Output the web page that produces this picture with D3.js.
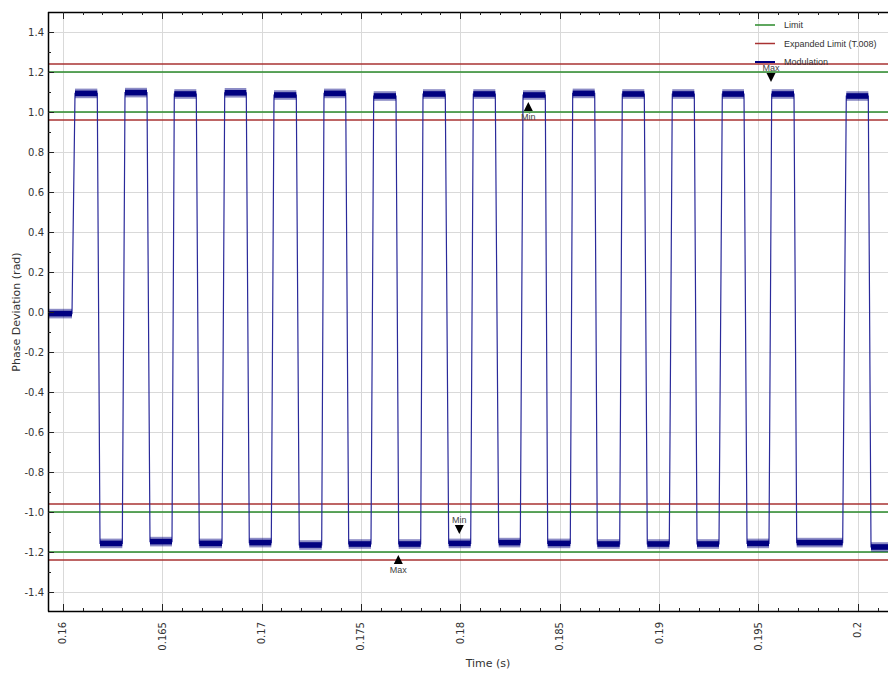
<!DOCTYPE html>
<html>
<head>
<meta charset="utf-8">
<script src="https://cdn.jsdelivr.net/npm/d3@7/dist/d3.min.js"></script>
<style>
  html, body { margin: 0; padding: 0; background: #fff; }
  svg { display: block; }
</style>
</head>
<body>
<svg id="chart" width="888" height="674"></svg>
<script>
// ---------------- DATA ----------------
const xTickValues = [0.16, 0.165, 0.17, 0.175, 0.18, 0.185, 0.19, 0.195, 0.2];
const xTickLabels = ["0.16", "0.165", "0.17", "0.175", "0.18", "0.185", "0.19", "0.195", "0.2"];
const yTickValues = [-1.4, -1.2, -1.0, -0.8, -0.6, -0.4, -0.2, 0, 0.2, 0.4, 0.6, 0.8, 1.0, 1.2, 1.4];
const yTickLabels = ["-1.4", "-1.2", "-1.0", "-0.8", "-0.6", "-0.4", "-0.2", "0.0", "0.2", "0.4", "0.6", "0.8", "1.0", "1.2", "1.4"];

// limit lines (rad)
const limitLevels = [1.2, 1.0, -1.0, -1.2];
const expandedLimitLevels = [1.24, 0.96, -0.96, -1.24];

// modulation plateaus: start time, end time, mean level
const plateauStart = [0.159261, 0.160619, 0.161876, 0.163134, 0.164391, 0.165614, 0.166871, 0.168149, 0.169386,
  0.170629, 0.171901, 0.173144, 0.174386, 0.175644, 0.176901, 0.178124, 0.179416, 0.180654, 0.181932,
  0.183154, 0.184396, 0.185654, 0.186892, 0.188149, 0.189406, 0.190664, 0.191907, 0.193179, 0.194422,
  0.195664, 0.196922, 0.199416, 0.200659];
const plateauEnd = [0.160468, 0.161740, 0.162998, 0.164240, 0.165498, 0.166720, 0.168013, 0.169235, 0.170493,
  0.171751, 0.173028, 0.174235, 0.175508, 0.176766, 0.178008, 0.179245, 0.180523, 0.181761, 0.183018,
  0.184276, 0.185533, 0.186761, 0.188018, 0.189256, 0.190513, 0.191771, 0.193013, 0.194271, 0.195528,
  0.196786, 0.199235, 0.200523, 0.201514];
const plateauLevel = [-0.008,
  1.093, -1.157, 1.097, -1.148, 1.090, -1.157, 1.096, -1.153,
  1.085, -1.165, 1.093, -1.160, 1.080, -1.160, 1.090, -1.157,
  1.090, -1.153, 1.085, -1.157, 1.093, -1.160, 1.090, -1.160,
  1.090, -1.160, 1.090, -1.157, 1.090, -1.153, 1.080, -1.175];

// Max / Min markers
const markerTime = [0.195629, 0.183421, 0.176881, 0.179950];
const markerValue = [1.13, 1.07, -1.195, -1.13];
const markerLabel = ["Max", "Min", "Max", "Min"];
const markerSide = ["above", "below", "below", "above"];

// legend
const legendNames = ["Limit", "Expanded Limit (T.008)", "Modulation"];

// ---------------- LAYOUT ----------------
const plot = { left: 48, right: 888, top: 12, bottom: 611 };
const colors = { limit: "#2a8a2a", expanded: "#a83232", mod: "#000080", grid: "#d9d9d9", text: "#333333", axis: "#000000" };

const svg = d3.select("#chart");

// x: 0.16 -> 62.7px, 0.2 -> 857.9px
const x = d3.scaleLinear().domain([0.16, 0.2]).range([62.7, 857.9]);
const y = d3.scaleLinear().domain([-1.5, 1.5]).range([612, 12]);

const clipId = "plotclip";
svg.append("defs").append("clipPath").attr("id", clipId)
  .append("rect").attr("x", plot.left).attr("y", plot.top)
  .attr("width", plot.right - plot.left).attr("height", plot.bottom - plot.top);

// grid
const grid = svg.append("g").attr("clip-path", `url(#${clipId})`);
grid.selectAll("line.vg").data(xTickValues).join("line")
  .attr("x1", d => Math.round(x(d)) + 0.5).attr("x2", d => Math.round(x(d)) + 0.5)
  .attr("y1", plot.top).attr("y2", plot.bottom)
  .attr("stroke", colors.grid).attr("stroke-width", 1);
grid.selectAll("line.hg").data(yTickValues).join("line")
  .attr("x1", plot.left).attr("x2", plot.right)
  .attr("y1", d => Math.round(y(d)) + 0.5).attr("y2", d => Math.round(y(d)) + 0.5)
  .attr("stroke", colors.grid).attr("stroke-width", 1);

// limit lines
const lim = svg.append("g").attr("clip-path", `url(#${clipId})`);
lim.selectAll("line.lim").data(limitLevels).join("line")
  .attr("x1", plot.left).attr("x2", plot.right)
  .attr("y1", d => y(d)).attr("y2", d => y(d))
  .attr("stroke", colors.limit).attr("stroke-width", 1.5);
lim.selectAll("line.exp").data(expandedLimitLevels).join("line")
  .attr("x1", plot.left).attr("x2", plot.right)
  .attr("y1", d => y(d)).attr("y2", d => y(d))
  .attr("stroke", colors.expanded).attr("stroke-width", 1.5);

// modulation waveform
const plateaus = plateauStart.map((s, i) => ({ s, e: plateauEnd[i], v: plateauLevel[i] }));
const wave = svg.append("g").attr("clip-path", `url(#${clipId})`);
const pts = [];
plateaus.forEach(p => { pts.push([p.s, p.v]); pts.push([p.e, p.v]); });
const line = d3.line().x(d => x(d[0])).y(d => y(d[1]));
wave.append("path").attr("d", line(pts))
  .attr("fill", "none").attr("stroke", "#2a2a9a").attr("stroke-width", 1.2);

// noisy plateau bands
const outerHalf = 0.024, innerHalf = 0.014;
wave.selectAll("rect.outer").data(plateaus).join("rect")
  .attr("x", d => x(d.s)).attr("width", d => x(d.e) - x(d.s))
  .attr("y", d => y(d.v + outerHalf)).attr("height", d => y(d.v - outerHalf) - y(d.v + outerHalf))
  .attr("fill", colors.mod).attr("opacity", 0.45);
wave.selectAll("rect.inner").data(plateaus).join("rect")
  .attr("x", d => x(d.s)).attr("width", d => x(d.e) - x(d.s))
  .attr("y", d => y(d.v + innerHalf)).attr("height", d => y(d.v - innerHalf) - y(d.v + innerHalf))
  .attr("fill", colors.mod);

// axes lines
svg.append("line").attr("x1", plot.left + 0.5).attr("x2", plot.left + 0.5)
  .attr("y1", plot.top).attr("y2", plot.bottom + 0.5).attr("stroke", colors.axis).attr("stroke-width", 1.5);
svg.append("line").attr("x1", plot.left).attr("x2", plot.right)
  .attr("y1", plot.bottom + 0.5).attr("y2", plot.bottom + 0.5).attr("stroke", colors.axis).attr("stroke-width", 1.5);
svg.append("line").attr("x1", plot.left).attr("x2", plot.right)
  .attr("y1", plot.top + 0.5).attr("y2", plot.top + 0.5).attr("stroke", colors.axis).attr("stroke-width", 1.5);

// x ticks (major + minor) on bottom and top, inward
const xMinor = d3.range(0.159, 0.2016, 0.001).filter(v => x(v) >= plot.left && x(v) <= plot.right);
const tk = svg.append("g");
xMinor.forEach(v => {
  const isMajor = Math.abs(Math.round(v * 200) - v * 200) < 1e-6;
  const len = isMajor ? 7 : 3;
  const px = Math.round(x(v)) + 0.5;
  tk.append("line").attr("x1", px).attr("x2", px).attr("y1", plot.bottom).attr("y2", plot.bottom - len)
    .attr("stroke", "#222").attr("stroke-width", 1);
  tk.append("line").attr("x1", px).attr("x2", px).attr("y1", plot.top).attr("y2", plot.top + len)
    .attr("stroke", "#222").attr("stroke-width", 1);
});
// y ticks
const yMinor = d3.range(-1.5, 1.5001, 0.1);
yMinor.forEach(v => {
  const isMajor = Math.abs(Math.round(v * 5) - v * 5) < 1e-6;
  const len = isMajor ? 6 : 3;
  const py = Math.round(y(v)) + 0.5;
  if (py <= plot.top + 1 || py >= plot.bottom) return;
  tk.append("line").attr("x1", plot.left).attr("x2", plot.left + len).attr("y1", py).attr("y2", py)
    .attr("stroke", "#222").attr("stroke-width", 1);
});

// tick labels
const font = "DejaVu Sans, sans-serif";
svg.append("g").selectAll("text").data(yTickValues).join("text")
  .attr("x", 44).attr("y", d => y(d)).attr("dy", "0.35em")
  .attr("text-anchor", "end").attr("font-family", font).attr("font-size", 10)
  .attr("fill", colors.text).text((d, i) => yTickLabels[i]);

svg.append("g").selectAll("text").data(xTickValues).join("text")
  .attr("transform", d => `translate(${x(d)},622) rotate(-90)`)
  .attr("dy", "0.35em").attr("text-anchor", "end")
  .attr("font-family", font).attr("font-size", 10)
  .attr("fill", colors.text).text((d, i) => xTickLabels[i]);

// axis titles
svg.append("text").attr("x", 488).attr("y", 667).attr("text-anchor", "middle")
  .attr("font-family", font).attr("font-size", 11).attr("fill", colors.text).text("Time (s)");
svg.append("text").attr("transform", "translate(20,312) rotate(-90)").attr("text-anchor", "middle")
  .attr("font-family", font).attr("font-size", 11).attr("fill", colors.text).text("Phase Deviation (rad)");

// markers
const mk = svg.append("g");
markerTime.forEach((t, i) => {
  const mx = x(t), my = y(markerValue[i]);
  const above = markerSide[i] === "above";
  const tip = above ? my - 4 : my + 4;
  const base = above ? tip - 9 : tip + 9;
  mk.append("path").attr("d", `M${mx},${tip} L${mx - 4.5},${base} L${mx + 4.5},${base} Z`).attr("fill", "#000");
  mk.append("text").attr("x", mx).attr("y", above ? base - 2 : base + 9)
    .attr("text-anchor", "middle").attr("font-family", "Liberation Sans, Arial, sans-serif")
    .attr("font-size", 9).attr("fill", "#444").text(markerLabel[i]);
});

// legend
const legColors = [colors.limit, colors.expanded, colors.mod];
const legWidths = [1.5, 1.5, 2];
const legRows = [25, 43.5, 62];
const lg = svg.append("g");
legendNames.forEach((n, i) => {
  lg.append("line").attr("x1", 755).attr("x2", 775).attr("y1", legRows[i]).attr("y2", legRows[i])
    .attr("stroke", legColors[i]).attr("stroke-width", legWidths[i]);
  lg.append("text").attr("x", 784).attr("y", legRows[i] + 3.2)
    .attr("font-family", "Liberation Sans, Arial, sans-serif").attr("font-size", 9)
    .attr("fill", colors.text).text(n);
});
</script>
</body>
</html>
